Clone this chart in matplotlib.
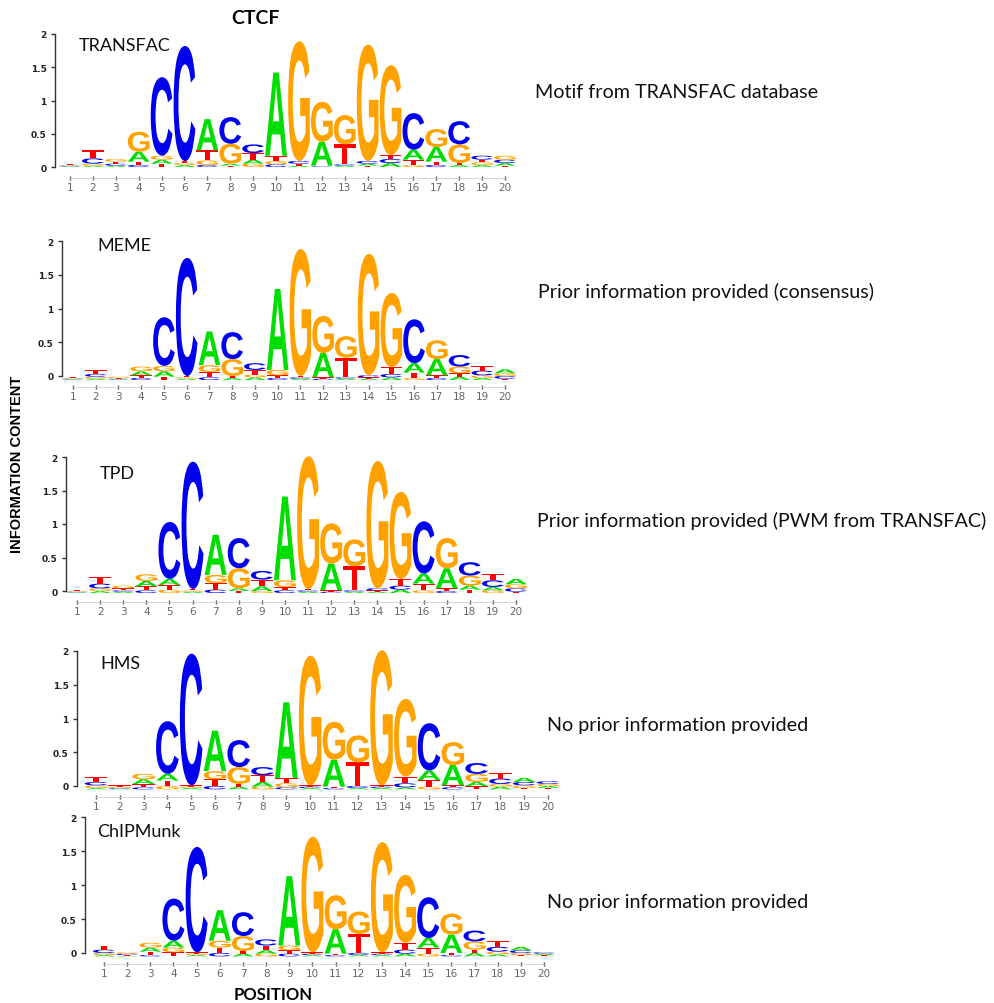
import numpy as np
import matplotlib
matplotlib.use("Agg")
from matplotlib import pyplot as plt
from matplotlib.textpath import TextPath
from matplotlib.font_manager import FontProperties
from matplotlib.patches import PathPatch
from matplotlib.transforms import Affine2D

positions = list(range(1, 21))

# information content (bits) per letter
transfac_A = [0.01, 0.02, 0.02, 0.15, 0.06, 0.03, 0.47, 0.03, 0.06, 1.25, 0.02, 0.36, 0.02, 0.03, 0.06, 0.15, 0.22, 0.03, 0.03, 0.04]
transfac_C = [0.01, 0.08, 0.03, 0.03, 1.18, 1.73, 0.03, 0.40, 0.13, 0.04, 0.04, 0.01, 0.02, 0.04, 0.06, 0.55, 0.03, 0.35, 0.06, 0.05]
transfac_G = [0.01, 0.03, 0.04, 0.30, 0.06, 0.03, 0.07, 0.30, 0.05, 0.05, 1.80, 0.60, 0.44, 1.75, 1.35, 0.03, 0.27, 0.28, 0.04, 0.06]
transfac_T = [0.01, 0.12, 0.03, 0.05, 0.05, 0.03, 0.15, 0.02, 0.10, 0.08, 0.03, 0.01, 0.30, 0.02, 0.06, 0.08, 0.05, 0.03, 0.04, 0.02]

meme_A = [0.01, 0.02, 0.01, 0.06, 0.08, 0.02, 0.50, 0.03, 0.04, 1.20, 0.02, 0.36, 0.02, 0.02, 0.04, 0.14, 0.24, 0.05, 0.03, 0.06]
meme_C = [0.01, 0.04, 0.01, 0.03, 0.72, 1.75, 0.04, 0.40, 0.10, 0.03, 0.02, 0.02, 0.02, 0.03, 0.05, 0.65, 0.03, 0.17, 0.07, 0.04]
meme_G = [0.01, 0.03, 0.02, 0.07, 0.08, 0.02, 0.10, 0.25, 0.04, 0.08, 1.88, 0.55, 0.32, 1.80, 1.10, 0.03, 0.28, 0.10, 0.04, 0.04]
meme_T = [0.01, 0.06, 0.01, 0.04, 0.05, 0.02, 0.08, 0.03, 0.07, 0.04, 0.02, 0.02, 0.29, 0.02, 0.10, 0.08, 0.04, 0.05, 0.07, 0.02]

tpd_A = [0.01, 0.03, 0.02, 0.08, 0.09, 0.02, 0.60, 0.04, 0.07, 1.25, 0.02, 0.40, 0.02, 0.02, 0.05, 0.15, 0.30, 0.06, 0.05, 0.08]
tpd_C = [0.01, 0.07, 0.02, 0.04, 0.85, 1.90, 0.05, 0.45, 0.13, 0.04, 0.02, 0.02, 0.02, 0.03, 0.06, 0.78, 0.03, 0.20, 0.10, 0.05]
tpd_G = [0.01, 0.04, 0.04, 0.10, 0.05, 0.02, 0.12, 0.30, 0.03, 0.10, 1.98, 0.60, 0.40, 1.90, 1.30, 0.04, 0.45, 0.15, 0.04, 0.06]
tpd_T = [0.01, 0.10, 0.03, 0.06, 0.07, 0.02, 0.10, 0.03, 0.10, 0.05, 0.02, 0.02, 0.36, 0.02, 0.10, 0.10, 0.04, 0.05, 0.10, 0.02]

hms_A = [0.02, 0.01, 0.07, 0.10, 0.02, 0.60, 0.04, 0.07, 1.12, 0.02, 0.40, 0.02, 0.02, 0.03, 0.14, 0.30, 0.06, 0.04, 0.06, 0.03]
hms_C = [0.05, 0.01, 0.03, 0.78, 1.95, 0.05, 0.40, 0.12, 0.03, 0.02, 0.02, 0.03, 0.02, 0.06, 0.70, 0.03, 0.16, 0.08, 0.05, 0.04]
hms_G = [0.04, 0.02, 0.08, 0.05, 0.02, 0.12, 0.25, 0.04, 0.06, 1.92, 0.56, 0.40, 2.00, 1.15, 0.04, 0.34, 0.12, 0.04, 0.04, 0.03]
hms_T = [0.07, 0.02, 0.05, 0.08, 0.02, 0.10, 0.04, 0.10, 0.08, 0.02, 0.02, 0.35, 0.02, 0.10, 0.10, 0.03, 0.05, 0.08, 0.02, 0.02]

chipmunk_A = [0.02, 0.01, 0.06, 0.10, 0.02, 0.45, 0.04, 0.05, 1.02, 0.02, 0.36, 0.02, 0.02, 0.04, 0.14, 0.27, 0.05, 0.03, 0.05, 0.02]
chipmunk_C = [0.05, 0.02, 0.02, 0.62, 1.55, 0.05, 0.35, 0.09, 0.04, 0.02, 0.02, 0.03, 0.02, 0.06, 0.60, 0.02, 0.16, 0.07, 0.04, 0.02]
chipmunk_G = [0.03, 0.02, 0.07, 0.07, 0.02, 0.10, 0.22, 0.04, 0.07, 1.70, 0.50, 0.33, 1.62, 1.00, 0.04, 0.31, 0.12, 0.04, 0.03, 0.01]
chipmunk_T = [0.06, 0.01, 0.05, 0.06, 0.02, 0.08, 0.04, 0.07, 0.05, 0.02, 0.02, 0.28, 0.02, 0.10, 0.09, 0.03, 0.05, 0.08, 0.02, 0.01]

panel_names = ["TRANSFAC", "MEME", "TPD", "HMS", "ChIPMunk"]
side_notes = ["Motif from TRANSFAC database",
              "Prior information provided (consensus)",
              "Prior information provided (PWM from TRANSFAC)",
              "No prior information provided",
              "No prior information provided"]
yticks = [0, 0.5, 1, 1.5, 2]
ytick_labels = ["0", "0.5", "1", "1.5", "2"]

panels = [
    {"A": transfac_A, "C": transfac_C, "G": transfac_G, "T": transfac_T},
    {"A": meme_A, "C": meme_C, "G": meme_G, "T": meme_T},
    {"A": tpd_A, "C": tpd_C, "G": tpd_G, "T": tpd_T},
    {"A": hms_A, "C": hms_C, "G": hms_G, "T": hms_T},
    {"A": chipmunk_A, "C": chipmunk_C, "G": chipmunk_G, "T": chipmunk_T},
]

colors = {"A": "#00dd00", "C": "#0000ee", "G": "#ffa200", "T": "#ff0000"}

# layout in pixels: (y of 0, y of 2, x of pos 1, x of pos 20, x of y-axis, baseline)
W, H = 994, 1004
layout = [
    (168, 35, 70, 505, 55, 0.0),
    (377, 242, 73, 505, 62, -0.06),
    (592, 458, 77, 516, 66, -0.03),
    (787, 652, 96, 548, 77, -0.05),
    (954, 818, 104, 544, 85, -0.05),
]
name_xy = [(79, 46), (97, 246), (100, 474), (100, 664), (97, 832)]
note_xy = [(535, 93), (538, 292), (537, 521), (547, 725), (547, 903)]

letter_font = FontProperties(family="Liberation Sans", weight="bold")
glyphs = {}
for ch in "ACGT":
    tp = TextPath((0, 0), ch, size=1, prop=letter_font)
    glyphs[ch] = (tp, tp.get_extents())


def draw_letter(ax, ch, x, y, w, h, color):
    tp, bb = glyphs[ch]
    t = Affine2D().translate(-bb.x0, -bb.y0).scale(w / bb.width, h / bb.height).translate(x - w / 2, y)
    ax.add_patch(PathPatch(t.transform_path(tp), fc=color, ec="none", lw=0, clip_on=False))


fig = plt.figure(figsize=(W / 100, H / 100), dpi=100)

for i, (data, (y0, y2, x1, x20, xs, base)) in enumerate(zip(panels, layout)):
    dx = (x20 - x1) / 19
    left = (x1 - dx / 2) / W
    ax = fig.add_axes([left, 1 - y0 / H, 20 * dx / W, (y0 - y2) / H])
    ax.set_xlim(0.5, 20.5)
    ax.set_ylim(0, 2)
    for j, p in enumerate(positions):
        stack = sorted([(data[ch][j], ch) for ch in "ACGT"])
        y = base
        for h, ch in stack:
            draw_letter(ax, ch, p, y, 0.95, h, colors[ch])
            y += h
    for s in ["top", "right"]:
        ax.spines[s].set_visible(False)
    ax.spines["left"].set_position(("data", 1 + (xs - x1) / dx))
    ax.spines["left"].set_bounds(0, 2)
    ax.spines["left"].set_linewidth(1.0)
    ax.spines["left"].set_color("#333333")
    ax.spines["bottom"].set_position(("outward", 8))
    ax.spines["bottom"].set_bounds(1, 20)
    ax.spines["bottom"].set_color("#cccccc")
    ax.spines["bottom"].set_linewidth(0.6)
    ax.set_yticks(yticks)
    ax.set_yticklabels(ytick_labels, fontsize=6.5, fontweight="bold", color="#222222")
    ax.set_xticks(positions)
    ax.set_xticklabels([str(p) for p in positions], fontsize=7.5, color="#666666")
    ax.tick_params(axis="y", length=3, width=1, pad=3, color="#333333")
    ax.tick_params(axis="x", length=3, width=1, pad=1, direction="inout", color="#555555")
    ax.patch.set_alpha(0)

    fig.text(name_xy[i][0] / W, 1 - name_xy[i][1] / H, panel_names[i],
             fontsize=13, family="Lato", va="center", ha="left", color="#111111")
    fig.text(note_xy[i][0] / W, 1 - note_xy[i][1] / H, side_notes[i],
             fontsize=14.2, family="Lato", va="center", ha="left", color="#111111")

fig.text(255 / W, 1 - 18 / H, "CTCF", fontsize=14, family="Lato", fontweight="bold",
         ha="center", va="center")
fig.text(17 / W, 1 - 464 / H, "INFORMATION CONTENT", fontsize=10.5, family="Liberation Sans",
         fontweight="bold", rotation=90, ha="center", va="center")
fig.text(273 / W, 1 - 995 / H, "POSITION", fontsize=12, family="Lato", fontweight="bold",
         ha="center", va="center")

fig.savefig("out.png", dpi=100)
